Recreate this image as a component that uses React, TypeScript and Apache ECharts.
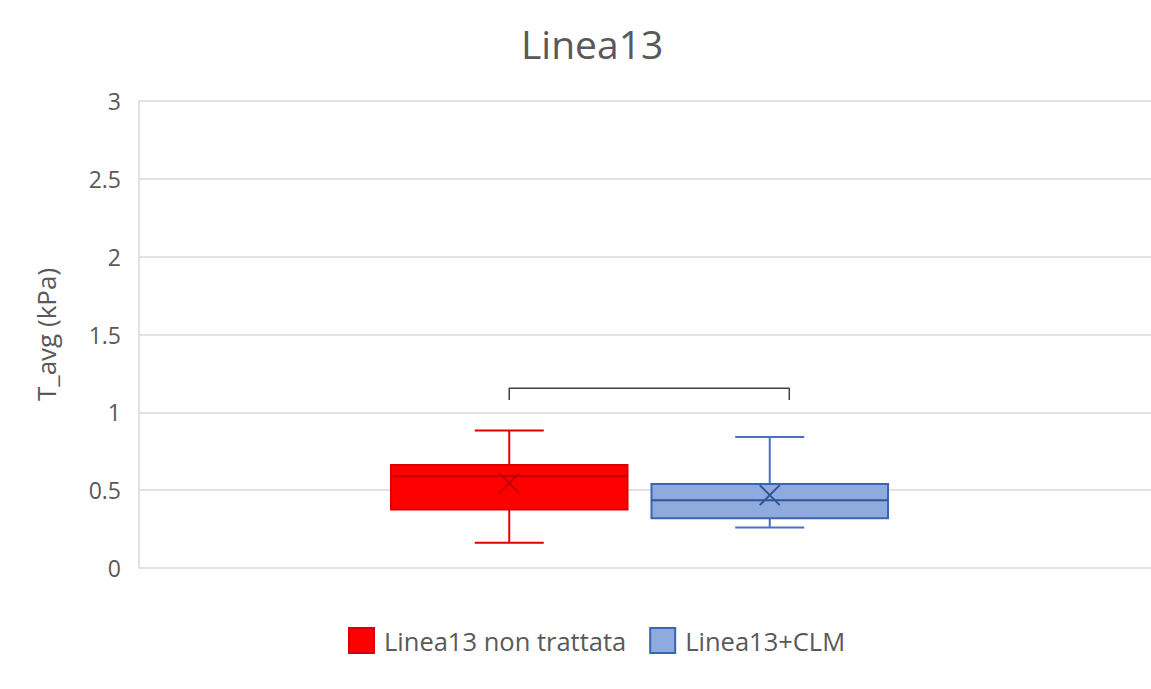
import React, { useEffect, useRef } from "react";
import * as echarts from "echarts";

// ---- data ----
const titleText = "Linea13";
const yAxisName = "T_avg (kPa)";
const categories = ["Linea13 non trattata", "Linea13+CLM"];
// [min, Q1, median, Q3, max]
const redStats = [0.163, 0.376, 0.59, 0.661, 0.884];
const redMean = 0.545;
const blueStats = [0.26, 0.32, 0.436, 0.539, 0.841];
const blueMean = 0.468;
// significance bracket: [x, y] in category units on the value axis
const bracketPoints = [
  [0, 1.079],
  [0, 1.154],
  [1.075, 1.154],
  [1.075, 1.079],
];
const yMin = 0;
const yMax = 3;
const yInterval = 0.5;

const FONT = "'Open Sans', 'Noto Sans', sans-serif";
const TEXT_COLOR = "#595959";

function makeRender(c: {
  fill: string;
  stroke: string;
  median: string;
  whisker: string;
  mean: string;
}) {
  return (params: any, api: any) => {
    const cat = api.value(0);
    const band = api.size([1, 0])[0];
    const bw = band * 0.908;
    const cw = band * 0.265;
    const pMin = api.coord([cat, api.value(1)]);
    const pQ1 = api.coord([cat, api.value(2)]);
    const pMed = api.coord([cat, api.value(3)]);
    const pQ3 = api.coord([cat, api.value(4)]);
    const pMax = api.coord([cat, api.value(5)]);
    const pMean = api.coord([cat, api.value(6)]);
    const x = pMed[0];
    const ws = { stroke: c.whisker, lineWidth: 2 };
    const m = 10;
    return {
      type: "group",
      children: [
        { type: "line", shape: { x1: x, y1: pQ3[1], x2: x, y2: pMax[1] }, style: ws },
        { type: "line", shape: { x1: x - cw / 2, y1: pMax[1], x2: x + cw / 2, y2: pMax[1] }, style: ws },
        { type: "line", shape: { x1: x, y1: pQ1[1], x2: x, y2: pMin[1] }, style: ws },
        { type: "line", shape: { x1: x - cw / 2, y1: pMin[1], x2: x + cw / 2, y2: pMin[1] }, style: ws },
        {
          type: "rect",
          shape: { x: x - bw / 2, y: pQ3[1], width: bw, height: pQ1[1] - pQ3[1] },
          style: { fill: c.fill, stroke: c.stroke, lineWidth: 2 },
        },
        { type: "line", shape: { x1: x - bw / 2, y1: pMed[1], x2: x + bw / 2, y2: pMed[1] }, style: { stroke: c.median, lineWidth: 2 } },
        { type: "line", shape: { x1: x - m, y1: pMean[1] - m, x2: x + m, y2: pMean[1] + m }, style: { stroke: c.mean, lineWidth: 2 } },
        { type: "line", shape: { x1: x - m, y1: pMean[1] + m, x2: x + m, y2: pMean[1] - m }, style: { stroke: c.mean, lineWidth: 2 } },
      ],
    };
  };
}

export default function App() {
  const ref = useRef<HTMLDivElement>(null);
  useEffect(() => {
    if (!ref.current) return;
    const chart = echarts.init(ref.current, null, { renderer: "svg" });
    chart.setOption({
      animation: false,
      backgroundColor: "#ffffff",
      title: {
        text: titleText,
        left: 516,
        top: 19,
        textStyle: { fontFamily: FONT, fontSize: 39, fontWeight: "normal", color: TEXT_COLOR },
      },
      legend: {
        data: categories,
        left: 348,
        top: 627,
        padding: 0,
        itemWidth: 25,
        itemHeight: 25,
        itemGap: 23,
        icon: "rect",
        textStyle: { fontFamily: FONT, fontSize: 25.5, color: TEXT_COLOR, padding: [0, 0, 0, 5] },
      },
      grid: [
        { left: 139, right: 0, top: 101, bottom: 121 },
        { left: 379, right: 251, top: 101, bottom: 121 },
      ],
      xAxis: [
        { type: "category", gridIndex: 0, data: [""], show: false },
        { type: "category", gridIndex: 1, data: categories, show: false },
        { type: "value", gridIndex: 1, min: -0.5, max: 1.5, show: false },
      ],
      yAxis: [
        {
          type: "value",
          gridIndex: 0,
          min: yMin,
          max: yMax,
          interval: yInterval,
          name: yAxisName,
          nameLocation: "middle",
          nameGap: 80,
          nameTextStyle: { fontFamily: FONT, fontSize: 26, color: TEXT_COLOR },
          axisLine: { show: true, lineStyle: { color: "#d9d9d9", width: 1.5 } },
          axisTick: { show: false },
          axisLabel: { fontFamily: FONT, fontSize: 23, color: TEXT_COLOR, margin: 18 },
          splitLine: { show: true, lineStyle: { color: "#d9d9d9", width: 1.5 } },
        },
        { type: "value", gridIndex: 1, min: yMin, max: yMax, show: false, splitLine: { show: false } },
      ],
      series: [
        {
          name: categories[0],
          type: "custom",
          xAxisIndex: 1,
          yAxisIndex: 1,
          itemStyle: { color: "#ff0000", borderColor: "#d80000", borderWidth: 1.5 },
          encode: { x: 0, y: [1, 2, 3, 4, 5] },
          renderItem: makeRender({
            fill: "#ff0000",
            stroke: "#e00000",
            median: "#c00000",
            whisker: "#e00000",
            mean: "#c00000",
          }),
          data: [[0, ...redStats, redMean]],
          silent: true,
        },
        {
          name: categories[1],
          type: "custom",
          xAxisIndex: 1,
          yAxisIndex: 1,
          itemStyle: { color: "#8faadc", borderColor: "#3c65b0", borderWidth: 1.5 },
          encode: { x: 0, y: [1, 2, 3, 4, 5] },
          renderItem: makeRender({
            fill: "#8faadc",
            stroke: "#3c65b0",
            median: "#2f5597",
            whisker: "#4472c4",
            mean: "#2f5597",
          }),
          data: [[1, ...blueStats, blueMean]],
          silent: true,
        },
        {
          name: "bracket",
          type: "line",
          xAxisIndex: 2,
          yAxisIndex: 1,
          data: bracketPoints,
          symbol: "none",
          lineStyle: { color: "#404040", width: 1.5 },
          silent: true,
        },
      ],
    });
    return () => chart.dispose();
  }, []);
  return (
    <div
      ref={ref}
      style={{ position: "absolute", left: 0, top: 0, width: 1151, height: 689 }}
    />
  );
}
